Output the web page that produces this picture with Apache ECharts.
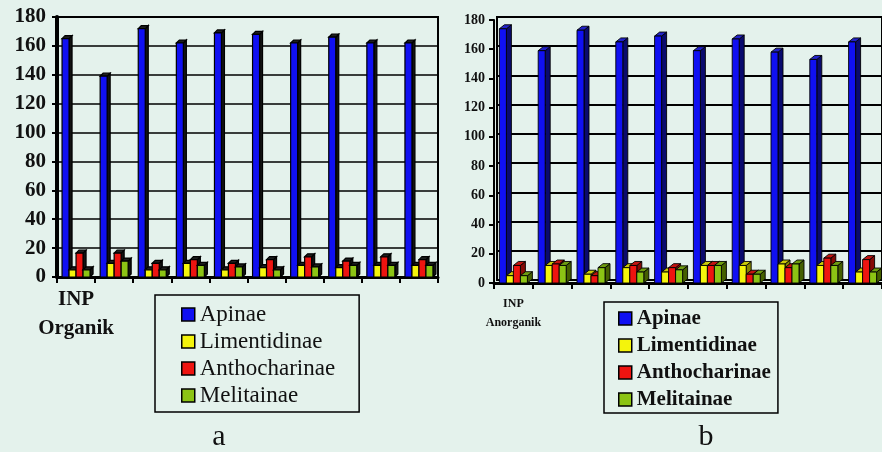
<!DOCTYPE html>
<html>
<head>
<meta charset="utf-8">
<script src="https://cdn.jsdelivr.net/npm/echarts@6/dist/echarts.min.js"></script>
<style>
  html, body { margin: 0; padding: 0; background: #e4f2ec; overflow: hidden; }
  #chart { width: 882px; height: 452px; }
</style>
</head>
<body>
<div id="chart"></div>
<script>
// Observation points along the x axis (only the first carries a label)
const points = ['1', '2', '3', '4', '5', '6', '7', '8', '9', '10'];
const labelOrganik = 'INP\nOrganik';
const labelAnorganik = 'INP\nAnorganik';
const seriesNames = ['Apinae', 'Limentidinae', 'Anthocharinae', 'Melitainae'];
const yTicks = { min: 0, max: 180, interval: 20 };

// (a) INP Organik
const apinaeOrg        = [165, 139, 172, 162, 169, 168, 162, 166, 162, 162];
const limentidinaeOrg  = [5, 9.5, 5, 9.5, 5, 6.5, 8, 6.5, 8, 8];
const anthocharinaeOrg = [16.5, 16.5, 9.5, 12, 9.5, 12, 14, 11, 14, 12];
const melitainaeOrg    = [5, 11, 5, 8, 7, 5, 7, 8, 8, 8];

// (b) INP Anorganik
const apinaeAnorg        = [174, 159, 173, 165, 169, 159, 167, 158, 153, 165];
const limentidinaeAnorg  = [5, 12, 6, 10.5, 7.5, 12, 12, 13, 12, 7.5];
const anthocharinaeAnorg = [12, 13, 5, 12, 10.5, 12, 6, 10.5, 17, 16];
const melitainaeAnorg    = [5, 12, 10.5, 7.5, 9, 12, 6, 13, 12, 7.5];

const faceColors  = ['#1010f2', '#f4f40c', '#ee1410', '#8cc414'];
const sideColorsB = ['#0a0a6e', '#858500', '#860a06', '#456000'];
const topColorsB  = ['#2222c8', '#caca08', '#c21410', '#6e9c10'];
const serif = '"Liberation Serif", "Times New Roman", serif';

const chart = echarts.init(document.getElementById('chart'));

// Draws one bar of a 4-bar group as a small prism: side face, top face, front face.
function prism(k, barW, dx, dy, face, side, top, strokeW) {
  return function (params, api) {
    const cat = api.value(0);
    const base = api.coord([cat, 0]);
    const head = api.coord([cat, api.value(1)]);
    const x = base[0] - 2 * barW + k * barW;
    const yb = base[1], yt = head[1];
    const line = { stroke: '#000', lineWidth: strokeW };
    return {
      type: 'group',
      children: [
        { type: 'polygon', shape: { points: [[x + barW, yb], [x + barW + dx, yb - dy], [x + barW + dx, yt - dy], [x + barW, yt]] },
          style: Object.assign({ fill: side }, line) },
        { type: 'polygon', shape: { points: [[x, yt], [x + dx, yt - dy], [x + barW + dx, yt - dy], [x + barW, yt]] },
          style: Object.assign({ fill: top }, line) },
        { type: 'rect', shape: { x, y: yt, width: barW, height: yb - yt },
          style: Object.assign({ fill: face }, line) }
      ]
    };
  };
}

function toPairs(values) {
  return values.map((v, i) => [i, v]);
}

function barsOrganik(name, values, k) {
  return {
    name, type: 'custom', xAxisIndex: 0, yAxisIndex: 0,
    data: toPairs(values),
    encode: { x: 0, y: 1 },
    itemStyle: { color: faceColors[k] },
    renderItem: prism(k, 7, 3, 3, faceColors[k], '#121212', '#1e1e1e', 1.2),
    emphasis: { disabled: true }, silent: true
  };
}
function barsAnorganik(name, values, k) {
  return {
    name, type: 'custom', xAxisIndex: 1, yAxisIndex: 1,
    data: toPairs(values),
    encode: { x: 0, y: 1 },
    itemStyle: { color: faceColors[k] },
    renderItem: prism(k, 7, 5, 4, faceColors[k], sideColorsB[k], topColorsB[k], 0.9),
    emphasis: { disabled: true }, silent: true
  };
}

const legendIcon = { borderColor: '#000', borderWidth: 1.5 };

function yAxis(gridIndex, fontSize, lineWidth, margin, gridLines) {
  return {
    type: 'value', gridIndex, min: yTicks.min, max: yTicks.max, interval: yTicks.interval,
    axisLine: { show: true, lineStyle: { color: '#000', width: lineWidth } },
    axisTick: { show: true, length: 5, lineStyle: { color: '#000', width: 2 } },
    axisLabel: { color: '#111', fontFamily: serif, fontWeight: 'bold', fontSize, margin },
    splitLine: { show: gridLines, lineStyle: { color: '#000', width: 1.6 } }
  };
}
function xAxis(gridIndex, label, fontSize, lineHeight, margin) {
  return {
    type: 'category', gridIndex, data: points,
    axisLine: { show: true, lineStyle: { color: '#000', width: 3 } },
    axisTick: { show: true, alignWithLabel: false, length: 6, lineStyle: { color: '#000', width: 2 } },
    axisLabel: {
      interval: 0, margin, color: '#111', fontFamily: serif, fontWeight: 'bold',
      fontSize, lineHeight,
      formatter: (v, idx) => (idx === 0 ? label : '')
    }
  };
}

chart.setOption({
  backgroundColor: '#e4f2ec',
  animation: false,
  grid: [
    { left: 57, top: 17, width: 381, height: 260, show: true, borderColor: '#000', borderWidth: 2, backgroundColor: 'transparent' },
    { left: 494, top: 20, width: 392, height: 263, show: false },
    // back wall of the (b) panel, set a little up and to the right of the front axes
    { left: 497, top: 17, width: 392, height: 263, show: true, borderColor: '#000', borderWidth: 2, backgroundColor: 'transparent' }
  ],
  xAxis: [
    xAxis(0, labelOrganik, 21, 29, 8),
    xAxis(1, labelAnorganik, 12, 19, 11),
    { type: 'category', gridIndex: 2, data: points, show: false }
  ],
  yAxis: [
    yAxis(0, 21, 4, 11, true),
    yAxis(1, 14, 2, 9, false),
    {
      type: 'value', gridIndex: 2, min: yTicks.min, max: yTicks.max, interval: yTicks.interval,
      axisLine: { show: true, lineStyle: { color: '#000', width: 1.5 } },
      axisTick: { show: false }, axisLabel: { show: false },
      splitLine: { show: true, lineStyle: { color: '#000', width: 1.8 } }
    }
  ],
  legend: [
    {
      data: seriesNames, orient: 'vertical', left: 155, top: 295,
      padding: [8, 24, 5, 26], itemGap: 4, itemWidth: 13, itemHeight: 13, itemTextGap: 9,
      borderColor: '#000', borderWidth: 1.5, icon: 'rect',
      itemStyle: legendIcon, selectedMode: false,
      textStyle: { fontFamily: serif, fontSize: 23, color: '#111' }
    },
    {
      data: seriesNames, orient: 'vertical', left: 604, top: 302,
      padding: [6, 7, 3, 14], itemGap: 6, itemWidth: 13, itemHeight: 13, itemTextGap: 8,
      borderColor: '#000', borderWidth: 1.5, icon: 'rect',
      itemStyle: legendIcon, selectedMode: false,
      textStyle: { fontFamily: serif, fontSize: 21, fontWeight: 'bold', color: '#111' }
    }
  ],
  graphic: [
    { type: 'text', x: 219, y: 452, style: { text: 'a', font: '30px ' + serif, fill: '#111', align: 'center', verticalAlign: 'bottom' } },
    { type: 'text', x: 706, y: 452, style: { text: 'b', font: '30px ' + serif, fill: '#111', align: 'center', verticalAlign: 'bottom' } }
  ],
  series: [
    barsOrganik(seriesNames[0], apinaeOrg, 0),
    barsOrganik(seriesNames[1], limentidinaeOrg, 1),
    barsOrganik(seriesNames[2], anthocharinaeOrg, 2),
    barsOrganik(seriesNames[3], melitainaeOrg, 3),
    barsAnorganik(seriesNames[0], apinaeAnorg, 0),
    barsAnorganik(seriesNames[1], limentidinaeAnorg, 1),
    barsAnorganik(seriesNames[2], anthocharinaeAnorg, 2),
    barsAnorganik(seriesNames[3], melitainaeAnorg, 3)
  ]
});
</script>
</body>
</html>
